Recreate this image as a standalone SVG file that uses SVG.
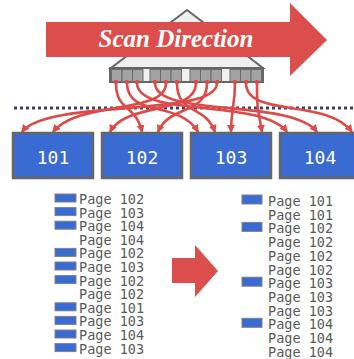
<svg xmlns="http://www.w3.org/2000/svg" width="354" height="359" viewBox="0 0 354 359">
  <style>
    .slot { fill: #a3a3a3; stroke: #6b6b6b; stroke-width: 1; }
    .page { fill: #3a6bd3; stroke: #666; stroke-width: 2.5; }
    .pid { font-family: "DejaVu Sans Mono", monospace; font-size: 18px; fill: #fff; text-anchor: middle; }
    .rec { font-family: "DejaVu Sans Mono", monospace; font-size: 13.5px; fill: #5a5a5a; }
    .mark { fill: #3a6bd3; stroke: #808080; stroke-width: 1; }
    .ptr { fill: none; stroke: #dd4b48; stroke-width: 2.6; marker-end: url(#head); }
  </style>
  <defs>
    <marker id="head" markerUnits="userSpaceOnUse" markerWidth="10" markerHeight="10" refX="7" refY="4" orient="auto">
      <path d="M0,0 L8,4 L0,8 Z" fill="#dd4b48"/>
    </marker>
  </defs>
  <rect width="354" height="359" fill="#fff"/>

  <!-- index tree -->
  <g id="index">
    <path d="M187,10 L111,68 L263,68 Z" fill="#efefef" stroke="#666" stroke-width="2"/>
    <rect x="110" y="68" width="153" height="14" fill="#efefef" stroke="#666" stroke-width="2"/>
    <g>
      <rect class="slot" x="111.5" y="69.5" width="10.5" height="12"/>
      <rect class="slot" x="122" y="69.5" width="10.5" height="12"/>
      <rect class="slot" x="132.5" y="69.5" width="10.5" height="12"/>
      <rect class="slot" x="150" y="69.5" width="10.5" height="12"/>
      <rect class="slot" x="160.5" y="69.5" width="10.5" height="12"/>
      <rect class="slot" x="171" y="69.5" width="10.5" height="12"/>
      <rect class="slot" x="190" y="69.5" width="10.5" height="12"/>
      <rect class="slot" x="200.5" y="69.5" width="10.5" height="12"/>
      <rect class="slot" x="211" y="69.5" width="10.5" height="12"/>
      <rect class="slot" x="230" y="69.5" width="10.5" height="12"/>
      <rect class="slot" x="240.5" y="69.5" width="10.5" height="12"/>
      <rect class="slot" x="251" y="69.5" width="10.5" height="12"/>
    </g>
  </g>

  <!-- scan direction arrow -->
  <g id="scan-arrow">
    <path d="M46,22 L290,22 L290,3 L327,40 L290,76 L290,57 L46,57 Z" fill="#dc4e4b"/>
    <text x="176" y="47" text-anchor="middle" font-family="Liberation Serif, serif" font-style="italic" font-weight="bold" font-size="25" fill="#fff">Scan Direction</text>
  </g>

  <!-- dotted separator -->
  <line x1="14" y1="108" x2="354" y2="108" stroke="#3c4060" stroke-width="3" stroke-dasharray="3 3"/>

  <!-- pointers from leaf slots to pages -->
  <g id="connectors">
    <g fill="#dd4b48">
      <circle cx="116" cy="82" r="2.2"/><circle cx="127" cy="82" r="2.2"/><circle cx="137" cy="82" r="2.2"/>
      <circle cx="155" cy="82" r="2.2"/><circle cx="166" cy="82" r="2.2"/><circle cx="177" cy="82" r="2.2"/>
      <circle cx="196" cy="82" r="2.2"/><circle cx="207" cy="82" r="2.2"/><circle cx="217" cy="82" r="2.2"/>
      <circle cx="235" cy="82" r="2.2"/><circle cx="246" cy="82" r="2.2"/><circle cx="257" cy="82" r="2.2"/>
    </g>
    <path class="ptr" d="M116,83 C116,112 136,104 142,132"/>
    <path class="ptr" d="M127,83 C127,118 180,100 198,132"/>
    <path class="ptr" d="M137,83 C137,118 262,98 287,132"/>
    <path class="ptr" d="M155,83 C155,118 292,98 317,132"/>
    <path class="ptr" d="M166,83 C166,115 78,100 53,132"/>
    <path class="ptr" d="M177,83 C177,115 205,104 215,132"/>
    <path class="ptr" d="M196,83 C196,115 125,102 110,132"/>
    <path class="ptr" d="M207,83 C207,115 170,104 158,132"/>
    <path class="ptr" d="M217,83 C217,118 47,98 22,132"/>
    <path class="ptr" d="M235,83 C235,105 231,110 231,132"/>
    <path class="ptr" d="M246,83 C246,118 327,98 352,132"/>
    <path class="ptr" d="M257,83 C257,112 258,108 262,132"/>
  </g>

  <!-- pages -->
  <g id="page-101"><rect class="page" x="13" y="133" width="80" height="45"/><text class="pid" x="53" y="164">101</text></g>
  <g id="page-102"><rect class="page" x="102" y="133" width="80" height="45"/><text class="pid" x="142" y="164">102</text></g>
  <g id="page-103"><rect class="page" x="191" y="133" width="80" height="45"/><text class="pid" x="231" y="164">103</text></g>
  <g id="page-104"><rect class="page" x="280" y="133" width="80" height="45"/><text class="pid" x="320" y="164">104</text></g>

  <!-- unsorted record ids -->
  <g id="unsorted">
    <rect class="mark" x="55" y="194" width="21" height="8"/>
    <rect class="mark" x="55" y="207.6" width="21" height="8"/>
    <rect class="mark" x="55" y="221.2" width="21" height="8"/>
    <rect class="mark" x="55" y="248.4" width="21" height="8"/>
    <rect class="mark" x="55" y="262" width="21" height="8"/>
    <rect class="mark" x="55" y="275.6" width="21" height="8"/>
    <rect class="mark" x="55" y="302.8" width="21" height="8"/>
    <rect class="mark" x="55" y="316.4" width="21" height="8"/>
    <rect class="mark" x="55" y="330" width="21" height="8"/>
    <rect class="mark" x="55" y="343.6" width="21" height="8"/>
    <text class="rec" x="79" y="204">Page 102</text>
    <text class="rec" x="79" y="217.6">Page 103</text>
    <text class="rec" x="79" y="231.2">Page 104</text>
    <text class="rec" x="79" y="244.8">Page 104</text>
    <text class="rec" x="79" y="258.4">Page 102</text>
    <text class="rec" x="79" y="272">Page 103</text>
    <text class="rec" x="79" y="285.6">Page 102</text>
    <text class="rec" x="79" y="299.2">Page 102</text>
    <text class="rec" x="79" y="312.8">Page 101</text>
    <text class="rec" x="79" y="326.4">Page 103</text>
    <text class="rec" x="79" y="340">Page 104</text>
    <text class="rec" x="79" y="353.6">Page 103</text>
  </g>

  <!-- sort step arrow -->
  <g id="sort-arrow">
    <path d="M172,258 L195,258 L195,245 L218,271 L195,297 L195,283 L172,283 Z" fill="#dc4e4b"/>
  </g>

  <!-- sorted record ids -->
  <g id="sorted">
    <rect class="mark" x="242" y="195" width="20" height="9"/>
    <rect class="mark" x="242" y="222.4" width="20" height="9"/>
    <rect class="mark" x="242" y="277.2" width="20" height="9"/>
    <rect class="mark" x="242" y="318.3" width="20" height="9"/>
    <text class="rec" x="268" y="206">Page 101</text>
    <text class="rec" x="268" y="219.7">Page 101</text>
    <text class="rec" x="268" y="233.4">Page 102</text>
    <text class="rec" x="268" y="247.1">Page 102</text>
    <text class="rec" x="268" y="260.8">Page 102</text>
    <text class="rec" x="268" y="274.5">Page 102</text>
    <text class="rec" x="268" y="288.2">Page 103</text>
    <text class="rec" x="268" y="301.9">Page 103</text>
    <text class="rec" x="268" y="315.6">Page 103</text>
    <text class="rec" x="268" y="329.3">Page 104</text>
    <text class="rec" x="268" y="343">Page 104</text>
    <text class="rec" x="268" y="356.7">Page 104</text>
  </g>
</svg>
